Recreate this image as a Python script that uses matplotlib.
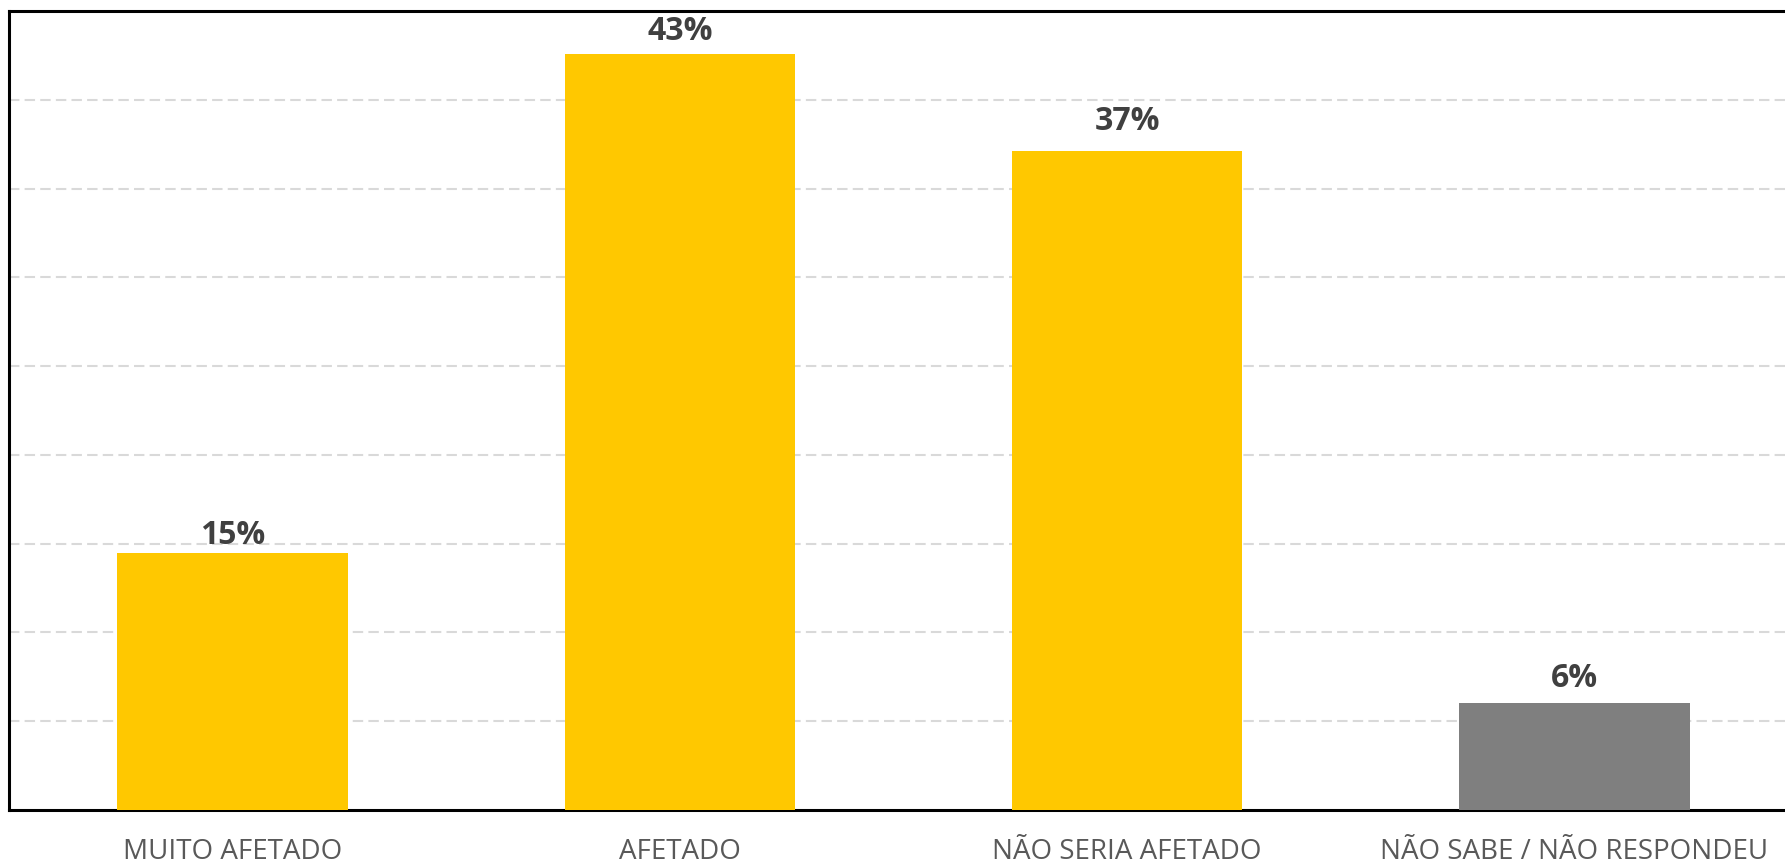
import matplotlib
matplotlib.use("Agg")
import matplotlib.pyplot as plt

categories = ["MUITO AFETADO", "AFETADO", "NÃO SERIA AFETADO", "NÃO SABE / NÃO RESPONDEU"]
values = [14.5, 42.6, 37.1, 6.0]
value_labels = ["15%", "43%", "37%", "6%"]
bar_colors = ["#FFC800", "#FFC800", "#FFC800", "#7F7F7F"]

# vertical gap (points) between bar top and label baseline, as in the reference
label_gaps = [5.8, 10.0, 15.0, 11.5]

plt.rcParams['font.family'] = ['Open Sans', 'DejaVu Sans']

fig = plt.figure(figsize=(17.85, 8.64), dpi=100)
ax = fig.add_axes([9/1785, 54/864, 1789/1785, 799/864])

x = list(range(len(categories)))
ax.bar(x, values, width=0.515, color=bar_colors, zorder=3)

ax.set_xlim(-0.5, 3.5)
ax.set_ylim(0, 45)
ax.set_yticks(range(5, 45, 5))
ax.yaxis.grid(True, color="#D9D9D9", linestyle=(0, (5, 2.5)), linewidth=1.5, zorder=0)
ax.tick_params(axis='y', left=False, labelleft=False)
ax.set_xticks(x)
ax.set_xticklabels(categories, fontsize=20, color="#595959")
ax.tick_params(axis='x', length=0, pad=20)

for s in ax.spines.values():
    s.set_color("black")
    s.set_linewidth(2.2)

for xi, v, lab, g in zip(x, values, value_labels, label_gaps):
    ax.annotate(lab, (xi, v), xytext=(0, g), textcoords="offset points",
                ha="center", va="baseline", fontsize=23, fontweight="bold",
                color="#404040", zorder=4, annotation_clip=False)

fig.savefig("out.png", dpi=100)
